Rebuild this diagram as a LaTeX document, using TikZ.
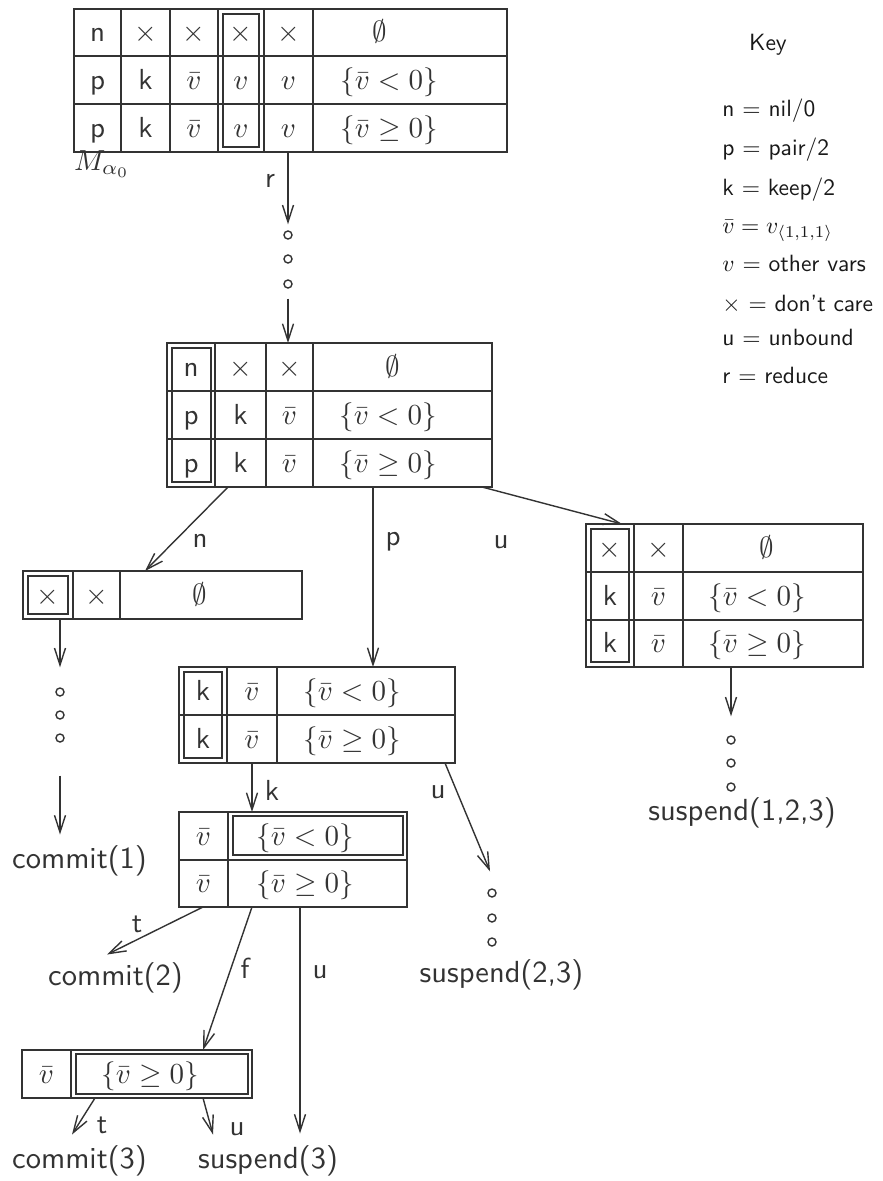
\documentclass[tikz,border=0pt]{standalone}
\usetikzlibrary{arrows.meta,calc}
\definecolor{ink}{gray}{0.2}
\tikzset{
 tbl/.style={draw=ink, line width=1.8pt, rectangle, inner sep=0pt, outer sep=0pt},
 rule/.style={draw=ink, line width=1.6pt},
 arr/.style={draw=ink, line width=1.4pt, -{Straight Barb[length=17pt,width=11pt,line width=1.4pt]}},
 dot/.style={circle, draw=ink, line width=1.4pt, minimum size=8pt, inner sep=0pt},
 ct/.style={anchor=base, scale=2.9, inner sep=0pt, text=ink, font=\sffamily},
 lbl/.style={anchor=base, scale=2.9, inner sep=0pt, text=ink, font=\sffamily},
 endt/.style={anchor=base, scale=3.05, inner sep=0pt, text=ink, font=\sffamily},
 keyt/.style={anchor=base west, scale=2.35, inner sep=0pt, text=black!90, font=\sffamily},
}
\newcommand\cel[4]{\node[ct] (#1) at (#2,#3) {#4};}
\begin{document}
\begin{tikzpicture}[x=1pt,y=-1pt]
\fill[white] (0,0) rectangle (883,1181);
\useasboundingbox (0,0) rectangle (883,1181);

% ---------- Table T1 ----------
\node[tbl, minimum width=433, minimum height=143] (T1) at (290.5,80.5) {};
\foreach \x in {121,170,218,264,313} \draw[rule] (\x,9) -- (\x,152);
\foreach \y in {56,104} \draw[rule] (74,\y) -- (507,\y);
\draw[rule] (223,14) rectangle (259,147);
\cel{a11}{97.5}{41.5}{n}\cel{a12}{145.5}{41.5}{$\times$}\cel{a13}{194}{41.5}{$\times$}
\cel{a14}{241}{41.5}{$\times$}\cel{a15}{288.5}{41.5}{$\times$}\cel{a16}{380}{41.5}{$\emptyset$}
\cel{a21}{97.5}{89}{p}\cel{a22}{145.5}{89}{k}\cel{a23}{194}{89}{$\bar v$}
\cel{a24}{241}{89}{$v$}\cel{a25}{288.5}{89}{$v$}\cel{a26}{389}{89}{$\{\bar v<0\}$}
\cel{a31}{97.5}{137}{p}\cel{a32}{145.5}{137}{k}\cel{a33}{194}{137}{$\bar v$}
\cel{a34}{241}{137}{$v$}\cel{a35}{288.5}{137}{$v$}\cel{a36}{389}{137}{$\{\bar v\geq 0\}$}
\node[lbl] (M) at (102,170) {$M_{\alpha_0}$};

% ---------- Table T2 ----------
\node[tbl, minimum width=325, minimum height=144] (T2) at (329.5,415) {};
\foreach \x in {215,266,313} \draw[rule] (\x,343) -- (\x,487);
\foreach \y in {391,439} \draw[rule] (167,\y) -- (492,\y);
\draw[rule] (172,348) rectangle (211,482);
\cel{b11}{191}{376}{n}\cel{b12}{240.5}{376}{$\times$}\cel{b13}{289.5}{376}{$\times$}\cel{b14}{393}{376}{$\emptyset$}
\cel{b21}{191}{424}{p}\cel{b22}{240.5}{424}{k}\cel{b23}{289.5}{424}{$\bar v$}\cel{b24}{388}{424}{$\{\bar v<0\}$}
\cel{b31}{191}{472}{p}\cel{b32}{240.5}{472}{k}\cel{b33}{289.5}{472}{$\bar v$}\cel{b34}{388}{472}{$\{\bar v\geq 0\}$}

% ---------- Table TL ----------
\node[tbl, minimum width=279, minimum height=48] (TL) at (162.5,595) {};
\foreach \x in {73,120} \draw[rule] (\x,571) -- (\x,619);
\draw[rule] (28,576) rectangle (68,614);
\cel{l11}{48}{604}{$\times$}\cel{l12}{96.5}{604}{$\times$}\cel{l13}{200}{604}{$\emptyset$}

% ---------- Table TR ----------
\node[tbl, minimum width=277, minimum height=143] (TR) at (724.5,595.5) {};
\foreach \x in {634,683} \draw[rule] (\x,524) -- (\x,667);
\foreach \y in {572,620} \draw[rule] (586,\y) -- (863,\y);
\draw[rule] (591,529) rectangle (629,662);
\cel{r11}{610}{557}{$\times$}\cel{r12}{658.5}{557}{$\times$}\cel{r13}{767}{557}{$\emptyset$}
\cel{r21}{610}{605}{k}\cel{r22}{658.5}{605}{$\bar v$}\cel{r23}{757}{605}{$\{\bar v<0\}$}
\cel{r31}{610}{652.5}{k}\cel{r32}{658.5}{652.5}{$\bar v$}\cel{r33}{757}{652.5}{$\{\bar v\geq 0\}$}

% ---------- Table TK ----------
\node[tbl, minimum width=276, minimum height=96] (TK) at (317,715) {};
\foreach \x in {227,277} \draw[rule] (\x,667) -- (\x,763);
\draw[rule] (179,715) -- (455,715);
\draw[rule] (184,672) rectangle (222,758);
\cel{k11}{203}{700}{k}\cel{k12}{252}{700}{$\bar v$}\cel{k13}{352}{700}{$\{\bar v<0\}$}
\cel{k21}{203}{748}{k}\cel{k22}{252}{748}{$\bar v$}\cel{k23}{352}{748}{$\{\bar v\geq 0\}$}

% ---------- Table TV ----------
\node[tbl, minimum width=228, minimum height=95] (TV) at (293,859.5) {};
\draw[rule] (228,812) -- (228,907);
\draw[rule] (179,860) -- (407,860);
\draw[rule] (233,816) rectangle (403,855);
\cel{v11}{203.5}{845}{$\bar v$}\cel{v12}{305}{845}{$\{\bar v<0\}$}
\cel{v21}{203.5}{892.5}{$\bar v$}\cel{v22}{305}{892.5}{$\{\bar v\geq 0\}$}

% ---------- Table TB ----------
\node[tbl, minimum width=230, minimum height=48] (TB) at (137,1074) {};
\draw[rule] (71,1050) -- (71,1098);
\draw[rule] (76,1054) rectangle (248,1094);
\cel{w11}{46.5}{1083}{$\bar v$}\cel{w12}{150}{1083}{$\{\bar v\geq 0\}$}

% ---------- dots ----------
\node[dot] (d1a) at (288,235) {};\node[dot] (d1b) at (288,259) {};\node[dot] (d1c) at (288,284) {};
\node[dot] (d2a) at (60,692) {};\node[dot] (d2b) at (60,715) {};\node[dot] (d2c) at (60,738) {};
\node[dot] (d3a) at (731,740) {};\node[dot] (d3b) at (731,763) {};\node[dot] (d3c) at (731,787) {};
\node[dot] (d4a) at (492,893) {};\node[dot] (d4b) at (492,918) {};\node[dot] (d4c) at (492,942) {};

% ---------- end texts ----------
\node[endt] (c1) at (79.5,868) {commit(1)};
\node[endt] (c2) at (115.5,985) {commit(2)};
\node[endt] (c3) at (79.5,1168) {commit(3)};
\node[endt] (s3) at (268,1168) {suspend(3)};
\node[endt] (s23) at (501.5,982) {suspend(2,3)};
\node[endt] (s123) at (742,820) {suspend(1,2,3)};

% ---------- connectors ----------
\draw[arr] ($(T1.south west)+(214,0)$) -- ($(d1a.north)+(0,-6)$);
\draw[arr] ($(d1c.south)+(0,10)$) -- ($(T2.north west)+(121,0)$);
\draw[arr] ($(T2.south west)+(61,0)$) -- ($(TL.north west)+(122,0)$);
\draw[arr] ($(T2.south west)+(206,0)$) -- ($(TK.north west)+(194,0)$);
\draw[arr] ($(T2.south west)+(315,0)$) -- ($(TR.north west)+(36,0)$);
\draw[arr] ($(TL.south west)+(37,0)$) -- ($(d2a.north)+(0,-20)$);
\draw[arr] ($(d2c.south)+(0,33)$) -- ($(c1.north -| d2c)+(0,-10)$);
\draw[arr] ($(TR.south west)+(145,0)$) -- ($(d3a.north)+(0,-19)$);
\draw[arr] ($(TK.south west)+(73,0)$) -- ($(TV.north west)+(73,0)$);
\draw[arr] ($(TK.south west)+(266,0)$) -- ($(d4a.north)+(-2,-17)$);
\draw[arr] ($(TV.south west)+(24,0)$) -- ($(c2.north)+(-8.5,-7)$);
\draw[arr] ($(TV.south west)+(73,0)$) -- ($(TB.north west)+(181,0)$);
\draw[arr] ($(TV.south west)+(121,0)$) -- ($(s3.north)+(32,-11)$);
\draw[arr] ($(TB.south west)+(73,0)$) -- ($(c3.north)+(-7.5,-10)$);
\draw[arr] ($(TB.south west)+(181,0)$) -- ($(s3.north)+(-55,-10)$);

% ---------- connector labels ----------
\node[lbl] (lr) at (270,187) {r};
\node[lbl] (ln) at (200,547) {n};
\node[lbl] (lp) at (393,545) {p};
\node[lbl] (lu1) at (501,548) {u};
\node[lbl] (lk) at (272,800) {k};
\node[lbl] (lu2) at (438,798) {u};
\node[lbl] (lt1) at (137,932) {t};
\node[lbl] (lf) at (245,978) {f};
\node[lbl] (lu3) at (320,978) {u};
\node[lbl] (lt2) at (102,1133) {t};
\node[lbl] (lu4) at (237,1135) {u};

% ---------- key ----------
\node[keyt, anchor=base] (key) at (768,50) {Key};
\node[keyt] (k1) at (722,116) {n $=$ nil/0};
\node[keyt] (k2) at (722,155) {p $=$ pair/2};
\node[keyt] (k3) at (722,195) {k $=$ keep/2};
\node[keyt] (k4) at (722,233) {$\bar v = v_{\langle 1,1,1\rangle}$};
\node[keyt] (k5) at (722,271) {$v$ $=$ other vars};
\node[keyt] (k6) at (722,311) {$\times$ $=$ don't care};
\node[keyt] (k7) at (722,345) {u $=$ unbound};
\node[keyt] (k8) at (722,383) {r $=$ reduce};
\end{tikzpicture}
\end{document}
